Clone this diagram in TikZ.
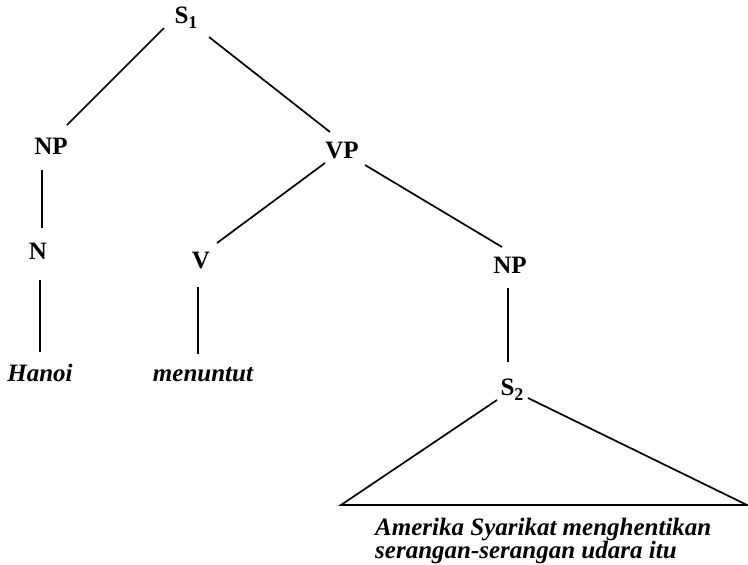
\documentclass[tikz,border=0pt]{standalone}
\usepackage{fontspec}
\setmainfont{Liberation Serif}
\newcommand{\lowidx}[1]{\raisebox{-0.4ex}{\fontsize{18}{18}\selectfont #1}}
\begin{document}
\begin{tikzpicture}[x=1pt,y=-1pt,
  cat/.style={font=\fontsize{25}{25}\selectfont\bfseries, inner sep=0pt},
  word/.style={font=\fontsize{25}{25}\selectfont\bfseries\itshape, inner sep=0pt},
  branch/.style={line width=1.7pt}]
\useasboundingbox (0,0) rectangle (748,565);
% categories
\node[cat] (s1) at (186,18) {S\lowidx{1}};
\node[cat] (np1) at (51,146) {NP};
\node[cat] (vp) at (342,151) {VP};
\node[cat] (n) at (38,251) {N};
\node[cat] (v) at (201,261) {V};
\node[cat] (np2) at (510,265) {NP};
\node[cat] (s2) at (512,390) {S\lowidx{2}};
% terminal words
\node[word] (hanoi) at (40,373) {Hanoi};
\node[word] (menuntut) at (203,375) {menuntut};
\node[word, anchor=base west] (clause1) at (375,535) {Amerika Syarikat menghentikan};
\node[word, anchor=base west] (clause2) at (375,558) {serangan-serangan udara itu};
% corners of the triangle under S2
\coordinate (tl) at (341,505);
\coordinate (tr) at (747,505);
% branches
\draw[branch] ([shift={(-22,10)}]s1.center) -- ([shift={(16,-21)}]np1.center);
\draw[branch] ([shift={(23,19)}]s1.center) -- ([shift={(-12,-19)}]vp.center);
\draw[branch] ([shift={(-9,24)}]np1.center) -- ([shift={(4,-23)}]n.center);
\draw[branch] ([shift={(2,29)}]n.center) -- ([shift={(0,-21)}]hanoi.center);
\draw[branch] ([shift={(-17,12)}]vp.center) -- ([shift={(16,-18)}]v.center);
\draw[branch] ([shift={(23,14)}]vp.center) -- ([shift={(-8,-18)}]np2.center);
\draw[branch] ([shift={(-3,26)}]v.center) -- ([shift={(-5,-21)}]menuntut.center);
\draw[branch] ([shift={(-2,23)}]np2.center) -- ([shift={(-4,-28)}]s2.center);
\draw[branch] ([shift={(-15,10)}]s2.center) -- (tl) -- (tr) -- ([shift={(16,8)}]s2.center);
\end{tikzpicture}
\end{document}
